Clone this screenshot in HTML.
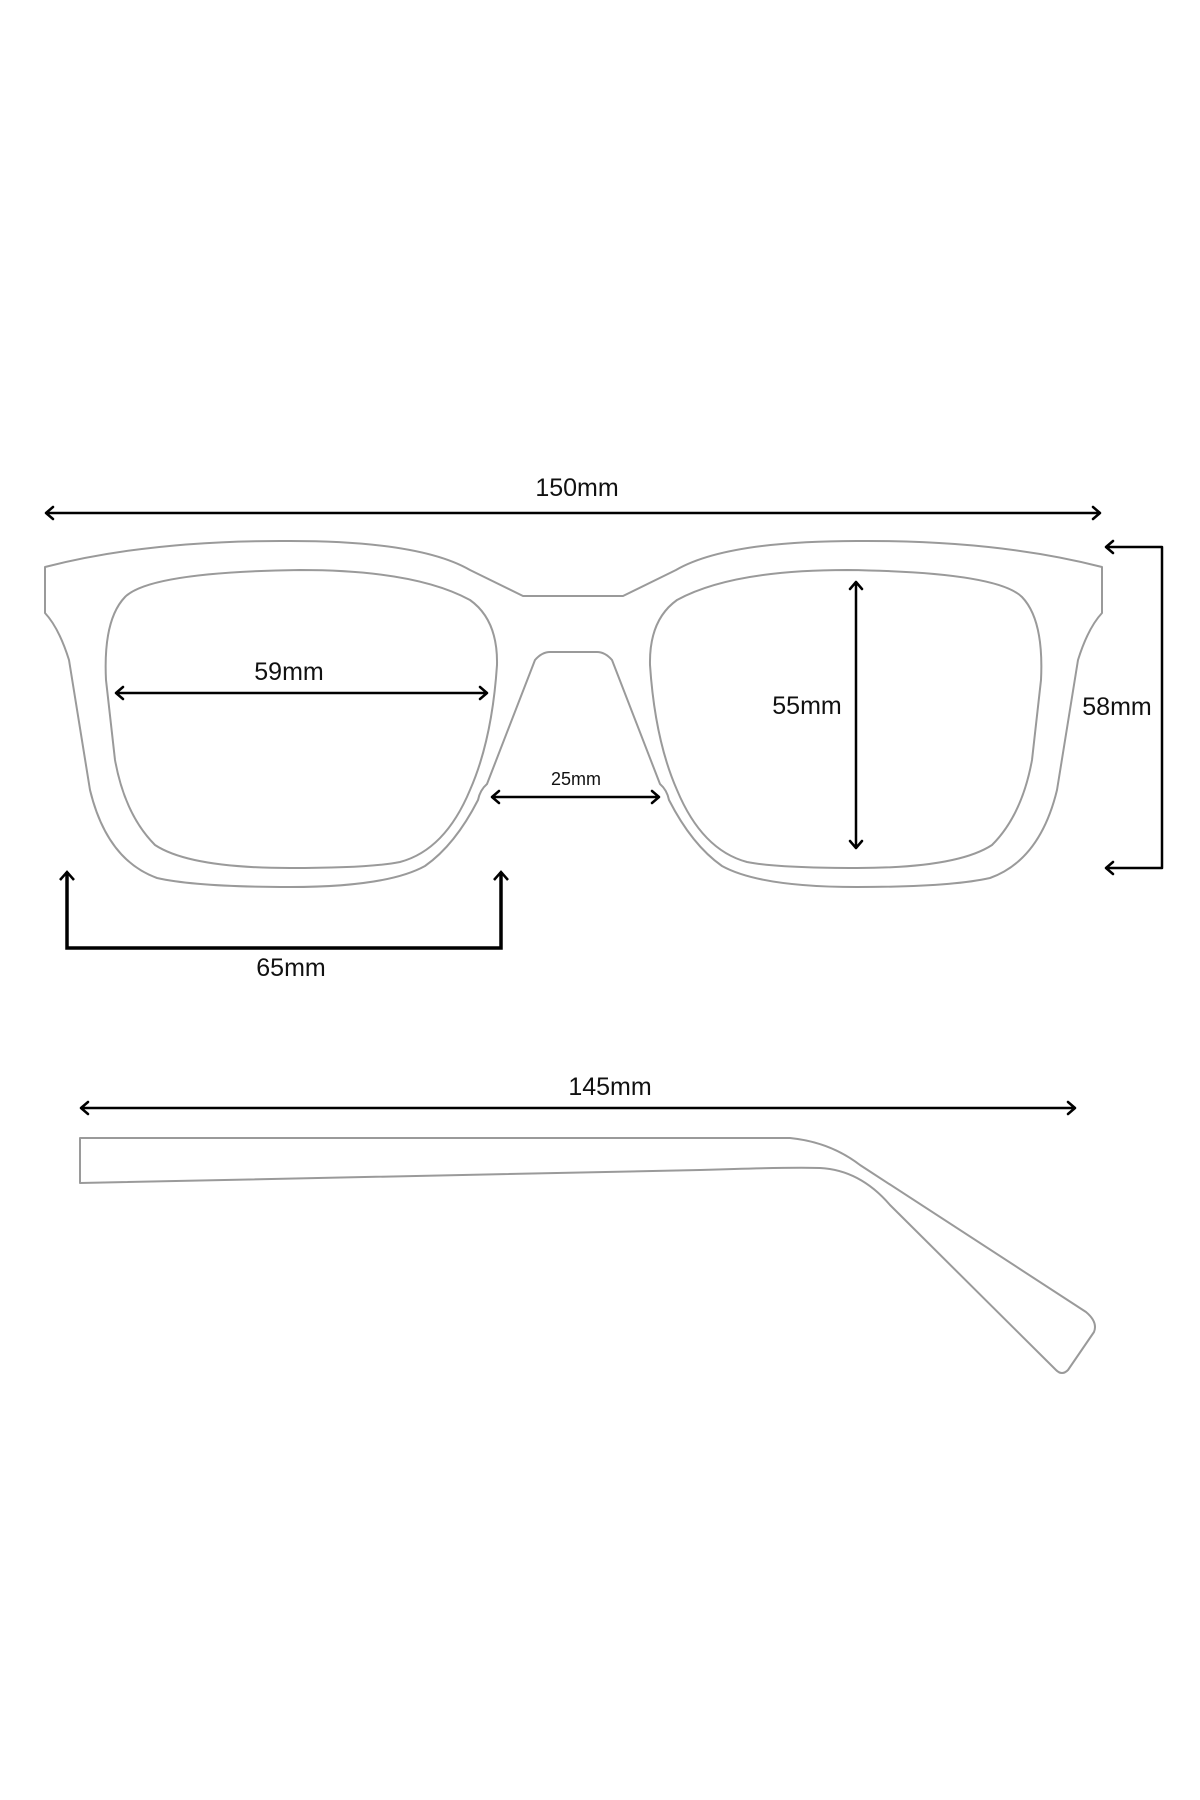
<!DOCTYPE html>
<html><head><meta charset="utf-8"><style>
html,body{margin:0;padding:0;background:#fff}
svg{display:block}
text{font-family:"Liberation Sans",sans-serif;fill:#111}
</style></head><body>
<svg width="1200" height="1800" viewBox="0 0 1200 1800" xmlns="http://www.w3.org/2000/svg">
<g fill="none" stroke="#9a9a9a" stroke-width="2" stroke-linejoin="round">
<!-- outer frame -->
<path d="M45 567 Q150 540 290 541 Q420 541 470 570 L523 596 L623 596 L676 570 Q726 541 857 541 Q997 540 1102 567 L1102 613 Q1088 628 1078 660 L1057 790 Q1040 860 990 878 Q950 887 857 887 Q760 887 722 866 Q692 845 669 800 Q667 790 660 784 L612 660 Q605 652 597 652 L550 652 Q542 652 535 660 L487 784 Q480 790 478 800 Q455 845 425 866 Q387 887 290 887 Q197 887 157 878 Q107 860 90 790 L69 660 Q59 628 45 613 Z"/>
<!-- left lens -->
<path d="M300 570 Q415 570 470 600 Q498 620 497 665 Q492 740 470 790 Q445 850 400 862 Q370 868 290 868 Q190 868 155 845 Q125 815 115 760 L106 680 Q103 620 125 597 Q150 572 300 570 Z"/>
<!-- right lens -->
<path d="M847 570 Q732 570 677 600 Q649 620 650 665 Q655 740 677 790 Q702 850 747 862 Q777 868 857 868 Q957 868 992 845 Q1022 815 1032 760 L1041 680 Q1044 620 1022 597 Q997 572 847 570 Z"/>
<!-- temple -->
<path d="M80 1138 L790 1138 Q830 1142 860 1165 L1086 1312 Q1098 1322 1094 1332 L1068 1370 Q1062 1376 1056 1370 L890 1205 Q860 1170 820 1168 Q790 1167 700 1170 L80 1183 Z"/>
</g>
<g fill="none" stroke="#000" stroke-width="2.5" stroke-linecap="round" stroke-linejoin="round">
<path d="M46 513 L1100 513 M53 507 L46 513 L53 519 M1093 507 L1100 513 L1093 519"/>
<path d="M116 693 L487 693 M123 687 L116 693 L123 699 M480 687 L487 693 L480 699"/>
<path d="M856 582 L856 848 M850 589 L856 582 L862 589 M850 841 L856 848 L862 841"/>
<path d="M492 797 L659 797 M499 791 L492 797 L499 803 M652 791 L659 797 L652 803"/>
<path d="M1106 547 L1162 547 L1162 868 L1106 868 M1113 541 L1106 547 L1113 553 M1113 862 L1106 868 L1113 874"/>
<path d="M81 1108 L1075 1108 M88 1102 L81 1108 L88 1114 M1068 1102 L1075 1108 L1068 1114"/>
</g>
<g fill="none" stroke="#000" stroke-width="3.5" stroke-linecap="butt" stroke-linejoin="miter">
<path d="M67 872 L67 948 L501 948 L501 872"/>
<path d="M60 880 L67 872 L74 880 M494 880 L501 872 L508 880" stroke-width="2.5"/>
</g>
<g font-size="25" text-anchor="middle">
<text x="577" y="496">150mm</text>
<text x="289" y="680">59mm</text>
<text x="807" y="714">55mm</text>
<text x="1117" y="715">58mm</text>
<text x="291" y="976">65mm</text>
<text x="610" y="1095">145mm</text>
<text x="576" y="785" font-size="18">25mm</text>
</g>
</svg>
</body></html>
